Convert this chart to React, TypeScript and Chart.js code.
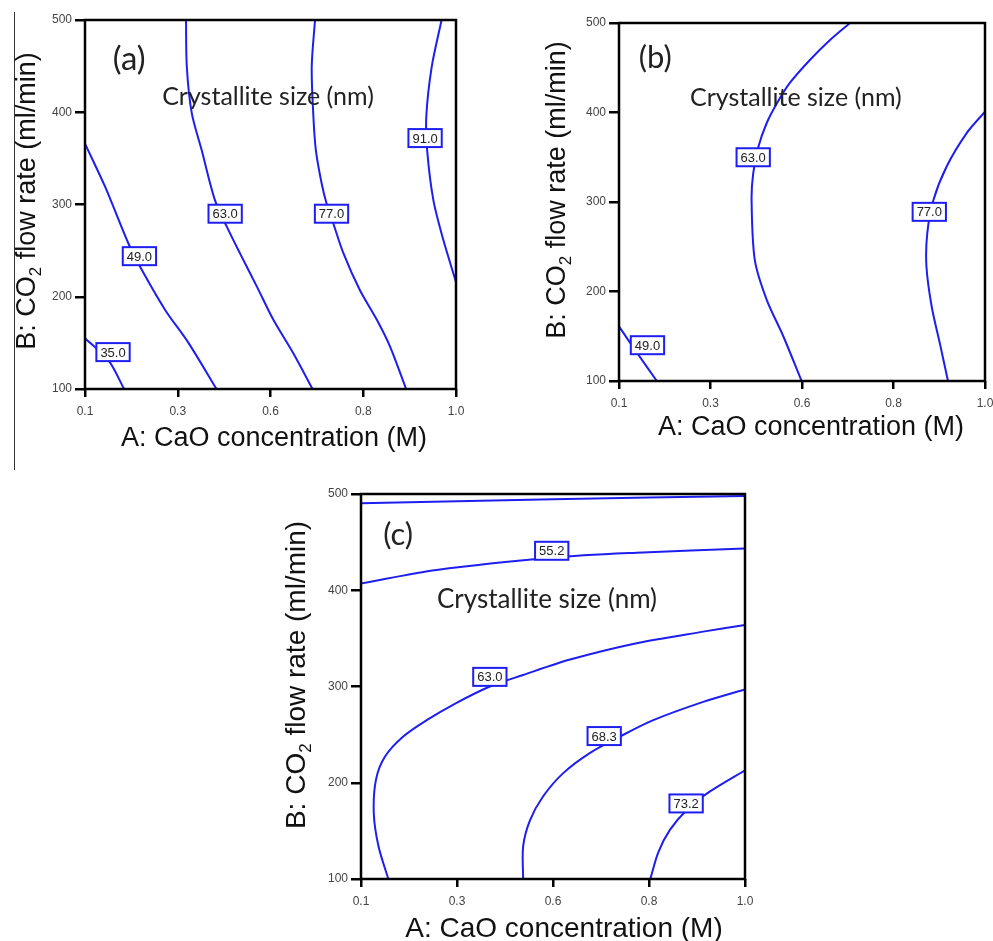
import React, { useEffect, useRef } from "react";
import { Chart, registerables } from "chart.js";
Chart.register(...registerables);

type Pt = [number, number];

// Axis ticks (shared)
const xTickValues = [0.1, 0.325, 0.55, 0.775, 1.0];
const xTickLabels = ["0.1", "0.3", "0.6", "0.8", "1.0"];
const yTickValues = [100, 200, 300, 400, 500];

// ---------- Panel (a) contours ----------
const a35: Pt[] = [[0.1, 155], [0.157, 131], [0.195, 100]];
const a49: Pt[] = [[0.1, 366], [0.149, 319], [0.205, 258], [0.233, 233], [0.294, 186], [0.351, 150], [0.419, 100]];
const a63: Pt[] = [[0.345, 500], [0.347, 449], [0.359, 399], [0.383, 359], [0.415, 305], [0.444, 276], [0.476, 247], [0.517, 211], [0.557, 175], [0.605, 139], [0.652, 100]];
const a77: Pt[] = [[0.658, 500], [0.65, 449], [0.654, 396], [0.66, 359], [0.674, 323], [0.686, 301], [0.702, 280], [0.727, 247], [0.767, 207], [0.808, 175], [0.84, 146], [0.879, 100]];
const a91: Pt[] = [[0.965, 500], [0.941, 449], [0.928, 396], [0.93, 359], [0.945, 305], [0.969, 262], [1.0, 216]];
const aLabelText = ["35.0", "49.0", "63.0", "77.0", "91.0"];
const aLabelX = [0.168, 0.232, 0.44, 0.698, 0.925];
const aLabelY = [140, 244, 290, 290, 372];

// ---------- Panel (b) contours ----------
const b49: Pt[] = [[0.1, 161], [0.145, 131], [0.193, 100]];
const b63: Pt[] = [[0.668, 500], [0.619, 481], [0.57, 459], [0.52, 433], [0.488, 410], [0.463, 388], [0.443, 362], [0.43, 332], [0.426, 302], [0.434, 235], [0.463, 191], [0.504, 150], [0.549, 100]];
const b77: Pt[] = [[1.0, 401], [0.955, 377], [0.906, 340], [0.873, 302], [0.858, 265], [0.856, 228], [0.869, 183], [0.889, 142], [0.909, 100]];
const bLabelText = ["49.0", "63.0", "77.0"];
const bLabelX = [0.17, 0.43, 0.863];
const bLabelY = [140, 350, 289];

// ---------- Panel (c) contours ----------
const cTop: Pt[] = [[0.1, 490.5], [0.55, 494.5], [1.0, 498]];
const c55: Pt[] = [[0.1, 407], [0.277, 421], [0.551, 434], [0.746, 439], [1.0, 443.5]];
const c63: Pt[] = [[0.164, 100], [0.141, 134], [0.13, 168], [0.135, 203], [0.156, 227], [0.199, 248], [0.254, 265], [0.324, 283], [0.402, 300], [0.48, 312], [0.59, 328], [0.746, 345], [0.902, 357], [1.0, 364]];
const c68: Pt[] = [[0.48, 100], [0.48, 134], [0.496, 161], [0.527, 186], [0.574, 210], [0.637, 231], [0.707, 248], [0.785, 265], [0.902, 284], [1.0, 297]];
const c73: Pt[] = [[0.778, 100], [0.797, 128], [0.824, 151], [0.864, 172], [0.918, 191], [1.0, 213]];
const cLabelText = ["55.2", "63.0", "68.3", "73.2"];
const cLabelX = [0.547, 0.402, 0.67, 0.862];
const cLabelY = [441, 310, 248.5, 178.5];

const BLUE = "#1e1ef0";
const AXIS_FONT = '"Liberation Sans", Arial, sans-serif';
const NOTE_FONT = 'Lato, "Open Sans", sans-serif';

interface PanelCfg {
  left: number; top: number; w: number; h: number;
  padTop: number; padRight: number; yAxisW: number; xAxisH: number;
  contours: Pt[][];
  labelText: string[]; labelX: number[]; labelY: number[];
  tag: string; tagX: number; tagY: number; tagSize: number;
  noteX: number; noteY: number; noteSize: number;
  titleSize: number;
  xTitleX: number; xTitleY: number;
  yTitleX: number; yTitleY: number;
}

const panels: PanelCfg[] = [
  {
    left: 0, top: 0, w: 485, h: 470, padTop: 20, padRight: 29, yAxisW: 85, xAxisH: 81,
    contours: [a35, a49, a63, a77, a91],
    labelText: aLabelText, labelX: aLabelX, labelY: aLabelY,
    tag: "(a)", tagX: 0.207, tagY: 457, tagSize: 33,
    noteX: 0.544, noteY: 416.5, noteSize: 25,
    titleSize: 27, xTitleX: 274, xTitleY: 446, yTitleX: 35, yTitleY: 201,
  },
  {
    left: 500, top: 0, w: 493, h: 470, padTop: 23, padRight: 8, yAxisW: 119, xAxisH: 89,
    contours: [b49, b63, b77],
    labelText: bLabelText, labelX: bLabelX, labelY: bLabelY,
    tag: "(b)", tagX: 0.189, tagY: 461, tagSize: 31,
    noteX: 0.535, noteY: 416, noteSize: 25,
    titleSize: 27, xTitleX: 311, xTitleY: 435, yTitleX: 65, yTitleY: 190,
  },
  {
    left: 270, top: 480, w: 490, h: 461, padTop: 14, padRight: 15, yAxisW: 91, xAxisH: 62,
    contours: [cTop, c55, c63, c68, c73],
    labelText: cLabelText, labelX: cLabelX, labelY: cLabelY,
    tag: "(c)", tagX: 0.187, tagY: 457, tagSize: 31,
    noteX: 0.536, noteY: 390, noteSize: 26,
    titleSize: 28, xTitleX: 294, xTitleY: 457, yTitleX: 35, yTitleY: 195,
  },
];

function decorPlugin(cfg: PanelCfg) {
  return {
    id: "decor",
    afterDraw(chart: any) {
      const { ctx, chartArea: a } = chart;
      const xs = chart.scales.x;
      const ys = chart.scales.y;
      ctx.save();
      // frame
      ctx.strokeStyle = "#000";
      ctx.lineWidth = 2.5;
      ctx.strokeRect(a.left, a.top, a.right - a.left, a.bottom - a.top);

      // contour labels
      ctx.font = `13px ${AXIS_FONT}`;
      ctx.textAlign = "center";
      ctx.textBaseline = "middle";
      cfg.labelText.forEach((t, i) => {
        const px = xs.getPixelForValue(cfg.labelX[i]);
        const py = ys.getPixelForValue(cfg.labelY[i]);
        const tw = ctx.measureText(t).width;
        const bw = tw + 8;
        const bh = 18;
        ctx.fillStyle = "#fff";
        ctx.fillRect(px - bw / 2, py - bh / 2, bw, bh);
        ctx.strokeStyle = BLUE;
        ctx.lineWidth = 2;
        ctx.strokeRect(px - bw / 2, py - bh / 2, bw, bh);
        ctx.fillStyle = "#222";
        ctx.fillText(t, px, py + 1);
      });

      // tag and note
      ctx.fillStyle = "#222";
      ctx.font = `${cfg.tagSize}px ${NOTE_FONT}`;
      ctx.fillText(cfg.tag, xs.getPixelForValue(cfg.tagX), ys.getPixelForValue(cfg.tagY));
      ctx.font = `${cfg.noteSize}px ${NOTE_FONT}`;
      ctx.fillText("Crystallite size (nm)", xs.getPixelForValue(cfg.noteX), ys.getPixelForValue(cfg.noteY));

      // x title
      ctx.fillStyle = "#111";
      ctx.font = `${cfg.titleSize}px ${AXIS_FONT}`;
      ctx.textBaseline = "alphabetic";
      ctx.fillText("A: CaO concentration (M)", cfg.xTitleX, cfg.xTitleY);

      // y title with subscript
      const big = `${cfg.titleSize}px ${AXIS_FONT}`;
      const small = `${Math.round(cfg.titleSize * 0.62)}px ${AXIS_FONT}`;
      const p1 = "B: CO";
      const p2 = "2";
      const p3 = " flow rate (ml/min)";
      ctx.font = big;
      const w1 = ctx.measureText(p1).width;
      const w3 = ctx.measureText(p3).width;
      ctx.font = small;
      const w2 = ctx.measureText(p2).width;
      const total = w1 + w2 + w3;
      ctx.translate(cfg.yTitleX, cfg.yTitleY);
      ctx.rotate(-Math.PI / 2);
      ctx.textAlign = "left";
      let cx = -total / 2;
      ctx.font = big;
      ctx.fillText(p1, cx, 0);
      cx += w1;
      ctx.font = small;
      ctx.fillText(p2, cx, cfg.titleSize * 0.22);
      cx += w2;
      ctx.font = big;
      ctx.fillText(p3, cx, 0);
      ctx.restore();
    },
  };
}

function Panel({ cfg }: { cfg: PanelCfg }) {
  const ref = useRef<HTMLCanvasElement>(null);
  useEffect(() => {
    const tickFont = { family: AXIS_FONT, size: 12 };
    const chart = new Chart(ref.current as HTMLCanvasElement, {
      type: "scatter",
      data: {
        datasets: cfg.contours.map((c) => ({
          data: c.map(([x, y]) => ({ x, y })),
          showLine: true,
          borderColor: BLUE,
          borderWidth: 2,
          pointRadius: 0,
          tension: 0.3,
          fill: false,
        })),
      },
      options: {
        animation: false,
        responsive: false,
        maintainAspectRatio: false,
        layout: { padding: { top: cfg.padTop, right: cfg.padRight, left: 0, bottom: 0 } },
        plugins: { legend: { display: false }, tooltip: { enabled: false } },
        scales: {
          x: {
            type: "linear",
            min: 0.1,
            max: 1.0,
            afterBuildTicks: (s: any) => {
              s.ticks = xTickValues.map((v) => ({ value: v }));
            },
            ticks: {
              callback: (_v: any, i: number) => xTickLabels[i],
              font: tickFont,
              color: "#444",
              padding: 7,
              maxRotation: 0,
              autoSkip: false,
            },
            grid: { display: true, drawOnChartArea: false, drawTicks: true, tickLength: 8, color: "#000", lineWidth: 2.5 },
            border: { display: false },
            afterFit: (s: any) => {
              s.height = cfg.xAxisH;
              s.paddingLeft = 0;
              s.paddingRight = 0;
            },
          },
          y: {
            type: "linear",
            min: 100,
            max: 500,
            afterBuildTicks: (s: any) => {
              s.ticks = yTickValues.map((v) => ({ value: v }));
            },
            ticks: {
              callback: (v: any) => String(v),
              font: tickFont,
              color: "#444",
              padding: 3,
              autoSkip: false,
            },
            grid: { display: true, drawOnChartArea: false, drawTicks: true, tickLength: 10, color: "#000", lineWidth: 2.5 },
            border: { display: false },
            afterFit: (s: any) => {
              s.width = cfg.yAxisW;
              s.paddingTop = 0;
              s.paddingBottom = 0;
            },
          },
        },
      } as any,
      plugins: [decorPlugin(cfg)],
    });
    return () => chart.destroy();
  }, [cfg]);
  return (
    <canvas
      ref={ref}
      width={cfg.w}
      height={cfg.h}
      style={{ position: "absolute", left: cfg.left, top: cfg.top, width: cfg.w, height: cfg.h }}
    />
  );
}

export default function App() {
  return (
    <div style={{ position: "absolute", left: 0, top: 0, width: 993, height: 941, overflow: "hidden", background: "#fff" }}>
      <div style={{ position: "absolute", left: 14, top: 12, width: 1, height: 458, background: "#333" }} />
      {panels.map((p, i) => (
        <Panel key={i} cfg={p} />
      ))}
    </div>
  );
}
